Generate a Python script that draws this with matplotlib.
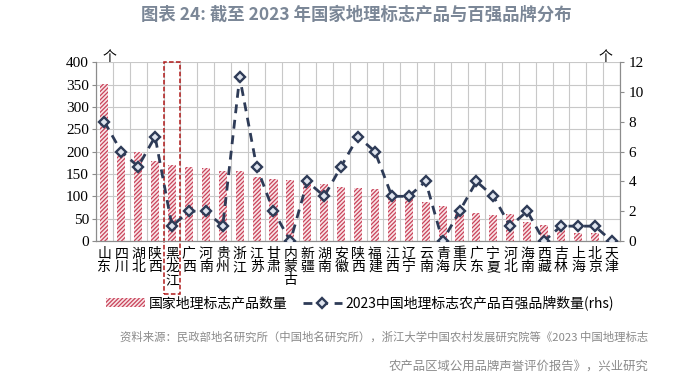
import numpy as np
import matplotlib
matplotlib.use('Agg')
import matplotlib.pyplot as plt
from matplotlib.patches import Rectangle
import matplotlib.transforms as mtransforms

plt.rcParams['font.family'] = ['Noto Sans CJK SC', 'DejaVu Sans']
plt.rcParams['hatch.linewidth'] = 0.9

# 数据
provinces = ['山东', '四川', '湖北', '陕西', '黑龙江', '广西', '河南', '贵州', '浙江', '江苏',
             '甘肃', '内蒙古', '新疆', '湖南', '安徽', '陕西', '福建', '江西', '辽宁', '云南',
             '青海', '重庆', '广东', '宁夏', '河北', '海南', '西藏', '吉林', '上海', '北京', '天津']
gi_products = [352, 197, 199, 178, 169, 166, 164, 156, 156, 143,
               138, 136, 131, 128, 120, 118, 117, 99, 98, 87,
               79, 64, 62, 58, 60, 43, 36, 26, 17, 17, 2]
top100_brands = [8, 6, 5, 7, 1, 2, 2, 1, 11, 5,
                 2, 0, 4, 3, 5, 7, 6, 3, 3, 4,
                 0, 2, 4, 3, 1, 2, 0, 1, 1, 1, 0]
left_ticks = list(range(0, 401, 50))
right_ticks = list(range(0, 13, 2))
highlight = '黑龙江'

fig = plt.figure(figsize=(7, 3.79), dpi=100)
ax = fig.add_axes([0.137, 0.364, 0.749, 0.472])
ax2 = ax.twinx()

x = np.arange(len(provinces))
grid_c = '#c8c8c8'
spine_c = '#8c8c8c'

# 柱状图（斜线填充）
ax.bar(x, gi_products, width=0.48, facecolor='#f8e4e7', edgecolor='#c9435a',
       hatch='////////', linewidth=0, zorder=2, label='国家地理标志产品数量')

# 折线（右轴）
navy = '#2e3b57'
ax2.plot(x, top100_brands, color=navy, linewidth=2.0, dashes=(3.2, 2.4),
         marker='D', markersize=4.8, markerfacecolor='#dfe4ee', markeredgecolor=navy,
         markeredgewidth=1.7, zorder=5, label='2023中国地理标志农产品百强品牌数量(rhs)')

ax.set_xlim(-0.5, len(provinces) - 0.5)
ax.set_ylim(0, 400)
ax2.set_ylim(0, 12)
ax.set_yticks(left_ticks)
ax2.set_yticks(right_ticks)

# 网格
ax.set_axisbelow(True)
ax.set_xticks(np.arange(-0.5, len(provinces), 1), minor=True)
ax.grid(which='minor', axis='x', color=grid_c, linewidth=0.8)
ax.grid(which='major', axis='y', color=grid_c, linewidth=0.8)

# 坐标轴标签（竖排省份名）
ax.set_xticks(x)
ax.set_xticklabels(['\n'.join(p) for p in provinces], fontsize=10, linespacing=0.95,
                   va='top')
ax.tick_params(axis='x', which='both', length=0, pad=4)
for lab in ax.get_yticklabels() + ax2.get_yticklabels():
    lab.set_family(['Liberation Serif', 'Noto Sans CJK SC'])
    lab.set_fontsize(11)
ax.tick_params(axis='y', length=3, color=spine_c, pad=2)
ax2.tick_params(axis='y', length=3, color=spine_c, pad=3)

for a in (ax, ax2):
    a.spines['top'].set_visible(False)
    for s in ('left', 'right', 'bottom'):
        a.spines[s].set_color(spine_c)
        a.spines[s].set_linewidth(0.8)

# 黑龙江红色虚线框
hi = provinces.index(highlight)
trans = mtransforms.blended_transform_factory(ax.transData, ax.transAxes)
ax.add_patch(Rectangle((hi - 0.5, -0.295), 1, 1.295, transform=trans, fill=False,
                       edgecolor='#b01a1a', linestyle=(0, (3, 1.5)), linewidth=1.1,
                       clip_on=False, zorder=6))

# 单位
fig.text(109 / 700, 1 - 57 / 379, '个', fontsize=10, ha='center', va='center')
fig.text(605 / 700, 1 - 57 / 379, '个', fontsize=10, ha='center', va='center')

# 图例
h1, l1 = ax.get_legend_handles_labels()
h2, l2 = ax2.get_legend_handles_labels()
fig.legend(h1 + h2, l1 + l2, loc='center', bbox_to_anchor=(360 / 700, 1 - 303 / 379),
           ncol=2, frameon=False, fontsize=10, handlelength=2.8, handleheight=0.6,
           handletextpad=0.25, columnspacing=1.1)

# 标题
fig.text(356 / 700, 1 - 15 / 379, '图表 24: 截至 2023 年国家地理标志产品与百强品牌分布',
         ha='center', va='center', fontsize=12.5, fontweight='bold', color='#7b8797')

# 资料来源
src_c = '#8a8a8a'
fig.text(648 / 700, 1 - 337 / 379,
         '资料来源：民政部地名研究所（中国地名研究所），浙江大学中国农村发展研究院等《2023 中国地理标志',
         ha='right', va='center', fontsize=8.2, color=src_c)
fig.text(648 / 700, 1 - 366 / 379, '农产品区域公用品牌声誉评价报告》，兴业研究',
         ha='right', va='center', fontsize=8.9, color=src_c)

fig.savefig('out.png', dpi=100)
